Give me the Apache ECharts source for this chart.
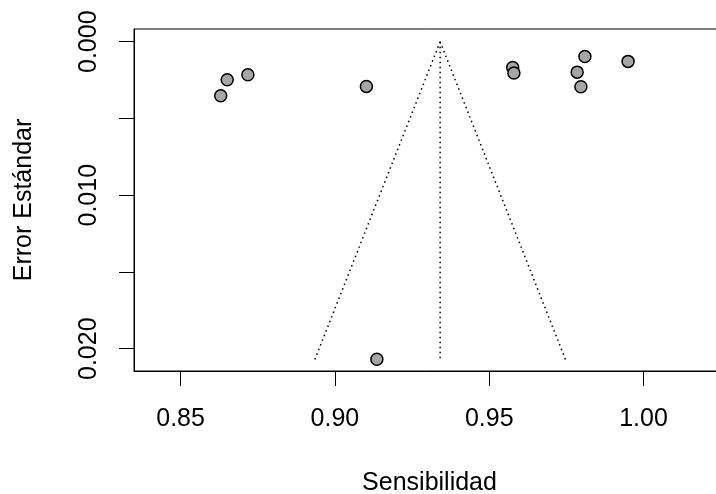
<!DOCTYPE html>
<html>
<head>
<meta charset="utf-8">
<script src="https://cdn.jsdelivr.net/npm/echarts@6/dist/echarts.min.js"></script>
<style>
  html, body { margin: 0; padding: 0; background: #fff; }
  #chart { width: 716px; height: 494px; }
</style>
</head>
<body>
<div id="chart"></div>
<script>
// Study estimates: sensitivity (x) and standard error (y)
var sensitivity = [0.8630, 0.8651, 0.8718, 0.9102, 0.9576, 0.9580, 0.9810, 0.9785, 0.9797, 0.9950, 0.9136];
var stdError    = [0.00352, 0.00248, 0.00215, 0.00291, 0.00168, 0.00204, 0.00096, 0.00198, 0.00293, 0.00128, 0.02069];

// Funnel (pooled estimate and pseudo 95% limits)
var funnelCenter = [[0.9341, 0.0], [0.9341, 0.0207]];
var funnelLeft   = [[0.9341, 0.0], [0.8935, 0.0207]];
var funnelRight  = [[0.9341, 0.0], [0.9747, 0.0207]];

// Axis ticks and labels
var xTicks  = [0.85, 0.90, 0.95, 1.00];
var xLabels = [0.85, 0.90, 0.95, 1.00];
var yTicks  = [0.000, 0.005, 0.010, 0.015, 0.020];
var yLabels = [0.000, 0.010, 0.020];

var points = sensitivity.map(function (s, i) { return [s, stdError[i]]; });

var font = 'Liberation Sans, Arial, sans-serif';
var dotted = { color: '#000', width: 1.5, type: [1.5, 3.5] };

var chart = echarts.init(document.getElementById('chart'), null, { renderer: 'canvas' });
chart.setOption({
  animation: false,
  backgroundColor: '#fff',
  grid: {
    left: 134, top: 29, right: -9, bottom: 123,
    outerBoundsMode: 'none', containLabel: false,
    show: true, borderColor: '#000', borderWidth: 1, backgroundColor: 'transparent'
  },
  xAxis: {
    type: 'value',
    min: 0.8349, max: 1.0264,
    name: 'Sensibilidad',
    nameLocation: 'middle',
    nameGap: 100,
    nameTextStyle: { fontFamily: font, fontSize: 25, color: '#000' },
    axisLine: { show: true, onZero: false, lineStyle: { color: '#000', width: 1 } },
    axisTick: { show: true, length: 15, customValues: xTicks, lineStyle: { color: '#000', width: 1 } },
    axisLabel: {
      customValues: xLabels, margin: 36,
      fontFamily: font, fontSize: 25, color: '#000',
      formatter: function (v) { return v.toFixed(2); }
    },
    splitLine: { show: false }
  },
  yAxis: {
    type: 'value',
    inverse: true,
    min: -0.00083, max: 0.02145,
    name: 'Error Estándar',
    nameLocation: 'middle',
    nameGap: 97,
    nameTextStyle: { fontFamily: font, fontSize: 25, color: '#000' },
    axisLine: { show: true, onZero: false, lineStyle: { color: '#000', width: 1 } },
    axisTick: { show: true, length: 15, customValues: yTicks, lineStyle: { color: '#000', width: 1 } },
    axisLabel: {
      customValues: yLabels, margin: 32, rotate: 90,
      fontFamily: font, fontSize: 25, color: '#000',
      formatter: function (v) { return v.toFixed(3); }
    },
    splitLine: { show: false }
  },
  series: [
    { type: 'line', data: funnelCenter, symbol: 'none', lineStyle: dotted, z: 2, silent: true },
    { type: 'line', data: funnelLeft, symbol: 'none', lineStyle: dotted, z: 2, silent: true },
    { type: 'line', data: funnelRight, symbol: 'none', lineStyle: dotted, z: 2, silent: true },
    {
      type: 'scatter', data: points, symbol: 'circle', symbolSize: 12, z: 3,
      itemStyle: { color: '#a6a6a6', borderColor: '#000', borderWidth: 1.5, opacity: 1 }
    }
  ]
});
</script>
</body>
</html>
